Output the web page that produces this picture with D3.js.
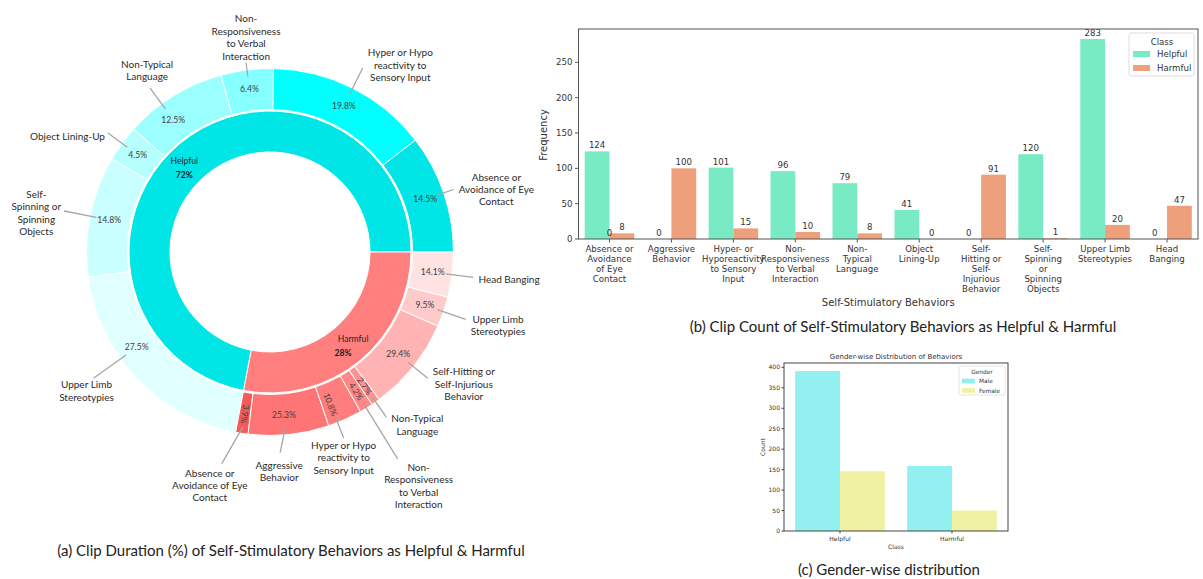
<!DOCTYPE html>
<html>
<head>
<meta charset="utf-8">
<script src="https://cdn.jsdelivr.net/npm/d3@7"></script>
<style>
  body { margin: 0; background: #fff; }
  svg { display: block; }
</style>
</head>
<body>
<svg id="fig" width="1203" height="579"></svg>
<script>
// ---------------- data ----------------
// (a) clip duration share, inner ring = class, outer ring = behaviour within class (%)
const classNames = ["Helpful", "Harmful"];
const classShare = [72, 28];

const helpfulBehaviors = [
  "Absence or\nAvoidance of Eye\nContact",
  "Hyper or Hypo\nreactivity to\nSensory Input",
  "Non-\nResponsiveness\nto Verbal\nInteraction",
  "Non-Typical\nLanguage",
  "Object Lining-Up",
  "Self-\nSpinning or\nSpinning\nObjects",
  "Upper Limb\nStereotypies"
];
const helpfulDuration = [14.5, 19.8, 6.4, 12.5, 4.5, 14.8, 27.5];

const harmfulBehaviors = [
  "Absence or\nAvoidance of Eye\nContact",
  "Aggressive\nBehavior",
  "Hyper or Hypo\nreactivity to\nSensory Input",
  "Non-\nResponsiveness\nto Verbal\nInteraction",
  "Non-Typical\nLanguage",
  "Self-Hitting or\nSelf-Injurious\nBehavior",
  "Upper Limb\nStereotypies",
  "Head Banging"
];
const harmfulDuration = [3.9, 25.3, 10.8, 4.2, 2.7, 29.4, 9.5, 14.1];

// (b) clip counts per behaviour
const behaviorCategories = [
  "Absence or\nAvoidance\nof Eye\nContact",
  "Aggressive\nBehavior",
  "Hyper- or\nHyporeactivity\nto Sensory\nInput",
  "Non-\nResponsiveness\nto Verbal\nInteraction",
  "Non-\nTypical\nLanguage",
  "Object\nLining-Up",
  "Self-\nHitting or\nSelf-\nInjurious\nBehavior",
  "Self-\nSpinning\nor\nSpinning\nObjects",
  "Upper Limb\nStereotypies",
  "Head\nBanging"
];
const helpfulCounts = [124, 0, 101, 96, 79, 41, 0, 120, 283, 0];
const harmfulCounts = [8, 100, 15, 10, 8, 0, 91, 1, 20, 47];
// an unlabelled empty group that sits at the first category's centre
const unassignedCounts = [0];
const yTicksB = [0, 50, 100, 150, 200, 250];

// (c) gender-wise distribution
const genderClasses = ["Helpful", "Harmful"];
const genders = ["Male", "Female"];
const maleCounts = [391, 159];
const femaleCounts = [146, 50];
const yTicksC = [0, 50, 100, 150, 200, 250, 300, 350, 400];

// ---------------- styling ----------------
const svg = d3.select("#fig");
const LABEL_FONT = "Lato, 'Open Sans', sans-serif";
const MPL_FONT = "'DejaVu Sans', sans-serif";

const innerColors = ["#00e6e6", "#ff7f7f"];
const helpfulColors = ["#00e6e6", "#00ffff", "#85ffff", "#9cffff", "#b5ffff", "#caffff", "#e0ffff"];
const harmfulColors = ["#f55a5a", "#ff7575", "#ff7d7d", "#ff8787", "#ff9292", "#ffb3b3", "#ffcaca", "#ffe3e3"];

// ================= (a) sunburst =================
(function drawSunburst() {
  const cx = 270, cy = 252;
  const g = svg.append("g").attr("transform", `translate(${cx},${cy})`);
  // start at 3 o'clock and run counter-clockwise
  const pie = d3.pie().sort(null).value(d => d.value)
    .startAngle(Math.PI / 2).endAngle(Math.PI / 2 - 2 * Math.PI);

  const innerData = classNames.map((c, i) => ({ name: c, value: classShare[i], color: innerColors[i] }));
  const sumH = d3.sum(helpfulDuration), sumX = d3.sum(harmfulDuration);
  const outerData = [
    ...helpfulBehaviors.map((b, i) => ({ cls: "Helpful", name: b, pct: helpfulDuration[i],
      value: helpfulDuration[i] / sumH * classShare[0], color: helpfulColors[i] })),
    ...harmfulBehaviors.map((b, i) => ({ cls: "Harmful", name: b, pct: harmfulDuration[i],
      value: harmfulDuration[i] / sumX * classShare[1], color: harmfulColors[i] }))
  ];

  const innerArc = d3.arc().innerRadius(100).outerRadius(141);
  const outerArc = d3.arc().innerRadius(142.5).outerRadius(183.5);

  const innerArcs = pie(innerData);
  const outerArcs = pie(outerData);

  g.selectAll("path.inner").data(innerArcs).join("path")
    .attr("class", "inner").attr("d", innerArc)
    .attr("fill", d => d.data.color).attr("stroke", "#fff").attr("stroke-width", 1);
  g.selectAll("path.outer").data(outerArcs).join("path")
    .attr("class", "outer").attr("d", outerArc)
    .attr("fill", d => d.data.color).attr("stroke", "#fff").attr("stroke-width", 1);

  // callout layout: leader end radius, text side, angular nudges (deg, ccw), text shifts
  const callout = {
    "Helpful|0": { r: 194, side: "right" },
    "Helpful|1": { r: 206, side: "right", dy: -3 },
    "Helpful|2": { r: 191, side: "above", dy: 2 },
    "Helpful|3": { r: 203, side: "above", nudge: 4.5, dx: -3, dy: -3 },
    "Helpful|4": { r: 201, side: "left", dy: 3 },
    "Helpful|5": { r: 210, side: "left", dy: 2 },
    "Helpful|6": { r: 217, side: "below", nudge: -8, dx: -7, dy: -2 },
    "Harmful|0": { r: 217, side: "below", endNudge: -4, dx: -12, dy: 1 },
    "Harmful|1": { r: 201, side: "below", nudge: -1, endNudge: -2, dx: -1, dy: 4 },
    "Harmful|2": { r: 200, side: "below", nudge: -2.5, dy: -1 },
    "Harmful|3": { r: 243, side: "below", dx: 21 },
    "Harmful|4": { r: 202, side: "right", dy: 8 },
    "Harmful|5": { r: 202, side: "right", dy: 6 },
    "Harmful|6": { r: 207, side: "right", dy: 6 },
    "Harmful|7": { r: 205, side: "right", dy: 2 }
  };

  // polar helper: d3 angle (clockwise from north) -> screen point
  const pt = (a, r) => [Math.sin(a) * r, -Math.cos(a) * r];
  const deg = Math.PI / 180;

  const counters = { Helpful: 0, Harmful: 0 };
  outerArcs.forEach(d => {
    const key = d.data.cls + "|" + (counters[d.data.cls]++);
    const lay = callout[key];
    const mid = (d.startAngle + d.endAngle) / 2 - (lay.nudge || 0) * deg;
    const span = Math.abs(d.endAngle - d.startAngle);

    // percentage label inside the ring
    const [lx, ly] = pt(mid, 164);
    const rotate = span < 11.5 * deg && Math.abs(Math.cos(mid)) > 0.5;
    const rot = rotate ? (mid / deg - 90) : 0;
    g.append("text")
      .attr("transform", `translate(${lx},${ly}) rotate(${rot})`)
      .attr("text-anchor", "middle").attr("dy", "0.35em")
      .attr("font-family", LABEL_FONT).attr("font-size", 8.6).attr("fill", "#404040")
      .text(d.data.pct.toFixed(1) + "%");

    // leader line
    const [sx, sy] = pt(mid, 177);
    const [ex, ey] = pt(mid - (lay.endNudge || 0) * deg, lay.r);
    g.append("line").attr("x1", sx).attr("y1", sy).attr("x2", ex).attr("y2", ey)
      .attr("stroke", "#a6a6a6").attr("stroke-width", 1.3);

    // category name, lines centred within their block
    const lines = d.data.name.split("\n");
    const lh = 12.4;
    const t = g.append("text").attr("font-family", LABEL_FONT).attr("font-size", 10)
      .attr("fill", "#2b2b2b").attr("text-anchor", "middle");
    const spans = lines.map(l => t.append("tspan").text(l));
    const w = d3.max(spans, s => s.node().getComputedTextLength());
    const n = lines.length;
    let bx, firstBase;
    const ox = lay.dx || 0, oy = lay.dy || 0;
    if (lay.side === "right") {
      bx = ex + 5 + w / 2; firstBase = ey - (n - 1) * lh / 2 + 3.5;
    } else if (lay.side === "left") {
      bx = ex - 3 - w / 2; firstBase = ey - (n - 1) * lh / 2 + 3.5;
    } else if (lay.side === "above") {
      bx = ex; firstBase = ey - 5 - (n - 1) * lh;
    } else {
      bx = ex; firstBase = ey + 12;
    }
    spans.forEach((s, i) => s.attr("x", bx + ox).attr("y", firstBase + oy + i * lh));
  });

  // class labels on the inner ring
  const innerNudge = { Helpful: 5.5, Harmful: 0 };
  innerArcs.forEach(d => {
    const mid = (d.startAngle + d.endAngle) / 2 - innerNudge[d.data.name] * deg;
    const [x, y] = pt(mid, 121);
    g.append("text").attr("x", x + (d.data.name === "Harmful" ? 6 : 0)).attr("y", y - 3)
      .attr("text-anchor", "middle")
      .attr("font-family", LABEL_FONT).attr("font-size", 8.6).attr("fill", "#262626")
      .text(d.data.name);
    g.append("text").attr("x", x - (d.data.name === "Harmful" ? 4 : 0)).attr("y", y + 11)
      .attr("text-anchor", "middle")
      .attr("font-family", LABEL_FONT).attr("font-size", 8.6).attr("font-weight", "bold")
      .attr("fill", "#1a1a1a").text(d.data.value + "%");
  });

  svg.append("text").attr("x", 291).attr("y", 556).attr("text-anchor", "middle")
    .attr("font-family", LABEL_FONT).attr("font-size", 15).attr("fill", "#222")
    .text("(a) Clip Duration (%) of Self-Stimulatory Behaviors as Helpful & Harmful");
})();

// ================= (b) grouped bar chart =================
(function drawCounts() {
  const left = 578.5, right = 1198, top = 29, bottom = 239;
  const g = svg.append("g");
  const x = d3.scaleBand().domain(d3.range(behaviorCategories.length)).range([left, right]);
  const y = d3.scaleLinear().domain([0, d3.max(helpfulCounts.concat(harmfulCounts)) * 1.05]).range([bottom, top]);
  const bw = x.bandwidth() * 0.4;
  const colors = { Helpful: "#78ebc5", Harmful: "#eda07b" };

  const series = [
    { name: "Helpful", values: helpfulCounts, offset: -1 },
    { name: "Harmful", values: harmfulCounts, offset: 0 }
  ];
  series.forEach(s => {
    s.values.forEach((v, i) => {
      const x0 = x(i) + x.bandwidth() / 2 + s.offset * bw;
      g.append("rect").attr("x", x0).attr("y", y(v)).attr("width", bw)
        .attr("height", y(0) - y(v)).attr("fill", colors[s.name]);
      g.append("text").attr("x", x0 + bw / 2).attr("y", y(v) - 3)
        .attr("text-anchor", "middle").attr("font-family", MPL_FONT)
        .attr("font-size", 8.6).attr("fill", "#333").text(v);
    });
  });
  unassignedCounts.forEach((v, i) => {
    g.append("text").attr("x", x(i) + x.bandwidth() / 2).attr("y", y(v) - 3)
      .attr("text-anchor", "middle").attr("font-family", MPL_FONT)
      .attr("font-size", 8.6).attr("fill", "#333").text(v);
  });

  // frame
  g.append("rect").attr("x", left).attr("y", top).attr("width", right - left)
    .attr("height", bottom - top).attr("fill", "none").attr("stroke", "#555").attr("stroke-width", 1);

  // y axis
  yTicksB.forEach(t => {
    g.append("line").attr("x1", left - 3.5).attr("x2", left).attr("y1", y(t)).attr("y2", y(t))
      .attr("stroke", "#555");
    g.append("text").attr("x", left - 6).attr("y", y(t)).attr("dy", "0.35em")
      .attr("text-anchor", "end").attr("font-family", MPL_FONT).attr("font-size", 8.6)
      .attr("fill", "#333").text(t);
  });
  g.append("text").attr("transform", `translate(547,135) rotate(-90)`)
    .attr("text-anchor", "middle").attr("font-family", MPL_FONT).attr("font-size", 10)
    .attr("fill", "#333").text("Frequency");

  // x axis
  behaviorCategories.forEach((c, i) => {
    const cxp = x(i) + x.bandwidth() / 2;
    g.append("line").attr("x1", cxp).attr("x2", cxp).attr("y1", bottom).attr("y2", bottom + 3.5)
      .attr("stroke", "#555");
    const t = g.append("text").attr("text-anchor", "middle").attr("font-family", MPL_FONT)
      .attr("font-size", 8.6).attr("fill", "#333");
    c.split("\n").forEach((l, k) => t.append("tspan").attr("x", cxp).attr("y", bottom + 13 + k * 10).text(l));
  });
  g.append("text").attr("x", (left + right) / 2).attr("y", 306).attr("text-anchor", "middle")
    .attr("font-family", MPL_FONT).attr("font-size", 10).attr("fill", "#333")
    .text("Self-Stimulatory Behaviors");

  // legend
  const lg = g.append("g");
  lg.append("rect").attr("x", 1129).attr("y", 33).attr("width", 65).attr("height", 43)
    .attr("rx", 2).attr("fill", "#fff").attr("fill-opacity", 0.85).attr("stroke", "#ddd");
  lg.append("text").attr("x", 1162).attr("y", 44.5).attr("text-anchor", "middle")
    .attr("font-family", MPL_FONT).attr("font-size", 8.6).attr("fill", "#333").text("Class");
  series.forEach((s, k) => {
    const yy = 54 + k * 14;
    lg.append("rect").attr("x", 1133).attr("y", yy - 3).attr("width", 17).attr("height", 6)
      .attr("fill", colors[s.name]);
    lg.append("text").attr("x", 1157).attr("y", yy).attr("dy", "0.35em")
      .attr("font-family", MPL_FONT).attr("font-size", 8.6).attr("fill", "#333").text(s.name);
  });

  svg.append("text").attr("x", 903).attr("y", 332).attr("text-anchor", "middle")
    .attr("font-family", LABEL_FONT).attr("font-size", 15).attr("fill", "#222")
    .text("(b) Clip Count of Self-Stimulatory Behaviors as Helpful & Harmful");
})();

// ================= (c) gender-wise distribution =================
(function drawGender() {
  const left = 784, right = 1008, top = 363, bottom = 531;
  const g = svg.append("g");
  const x = d3.scaleBand().domain(genderClasses).range([left, right]);
  const y = d3.scaleLinear().domain([0, d3.max(maleCounts.concat(femaleCounts)) * 1.05]).range([bottom, top]);
  const bw = x.bandwidth() * 0.4;
  const colors = { Male: "#92f0f0", Female: "#f0f0a2" };
  const series = [
    { name: "Male", values: maleCounts, offset: -1 },
    { name: "Female", values: femaleCounts, offset: 0 }
  ];
  series.forEach(s => {
    s.values.forEach((v, i) => {
      const x0 = x(genderClasses[i]) + x.bandwidth() / 2 + s.offset * bw;
      g.append("rect").attr("x", x0).attr("y", y(v)).attr("width", bw)
        .attr("height", y(0) - y(v)).attr("fill", colors[s.name]);
    });
  });

  g.append("rect").attr("x", left).attr("y", top).attr("width", right - left)
    .attr("height", bottom - top).attr("fill", "none").attr("stroke", "#444").attr("stroke-width", 1);

  yTicksC.forEach(t => {
    g.append("line").attr("x1", left - 2.5).attr("x2", left).attr("y1", y(t)).attr("y2", y(t))
      .attr("stroke", "#444");
    g.append("text").attr("x", left - 4).attr("y", y(t)).attr("dy", "0.35em")
      .attr("text-anchor", "end").attr("font-family", MPL_FONT).attr("font-size", 6)
      .attr("fill", "#333").text(t);
  });
  genderClasses.forEach(c => {
    const cxp = x(c) + x.bandwidth() / 2;
    g.append("line").attr("x1", cxp).attr("x2", cxp).attr("y1", bottom).attr("y2", bottom + 2.5)
      .attr("stroke", "#444");
    g.append("text").attr("x", cxp).attr("y", bottom + 10).attr("text-anchor", "middle")
      .attr("font-family", MPL_FONT).attr("font-size", 6).attr("fill", "#333").text(c);
  });
  g.append("text").attr("x", (left + right) / 2).attr("y", 549).attr("text-anchor", "middle")
    .attr("font-family", MPL_FONT).attr("font-size", 6).attr("fill", "#333").text("Class");
  g.append("text").attr("transform", "translate(765,447) rotate(-90)").attr("text-anchor", "middle")
    .attr("font-family", MPL_FONT).attr("font-size", 6).attr("fill", "#333").text("Count");
  g.append("text").attr("x", (left + right) / 2).attr("y", 358.5).attr("text-anchor", "middle")
    .attr("font-family", MPL_FONT).attr("font-size", 7).attr("fill", "#333")
    .text("Gender-wise Distribution of Behaviors");

  const lg = g.append("g");
  lg.append("rect").attr("x", 959).attr("y", 366).attr("width", 46).attr("height", 29)
    .attr("rx", 1.5).attr("fill", "#fff").attr("stroke", "#ddd").attr("stroke-width", 0.8);
  lg.append("text").attr("x", 982).attr("y", 373.5).attr("text-anchor", "middle")
    .attr("font-family", MPL_FONT).attr("font-size", 5.8).attr("fill", "#333").text("Gender");
  series.forEach((s, k) => {
    const yy = 381 + k * 9.5;
    lg.append("rect").attr("x", 962).attr("y", yy - 2.3).attr("width", 13).attr("height", 4.6)
      .attr("fill", colors[s.name]);
    lg.append("text").attr("x", 979).attr("y", yy).attr("dy", "0.35em")
      .attr("font-family", MPL_FONT).attr("font-size", 5.8).attr("fill", "#333").text(s.name);
  });

  svg.append("text").attr("x", 889).attr("y", 575).attr("text-anchor", "middle")
    .attr("font-family", LABEL_FONT).attr("font-size", 15).attr("fill", "#222")
    .text("(c) Gender-wise distribution");
})();
</script>
</body>
</html>
